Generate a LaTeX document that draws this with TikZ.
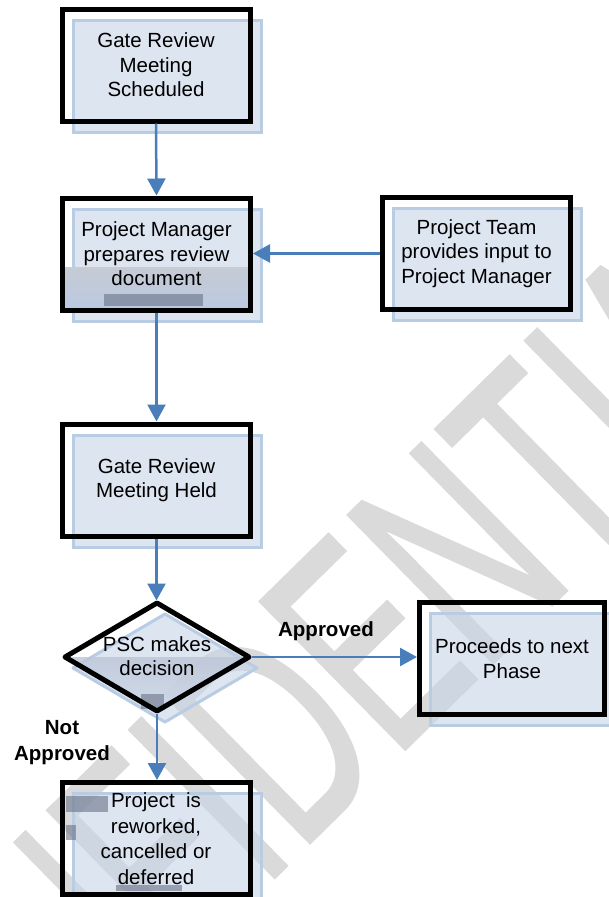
\documentclass[tikz,border=0pt]{standalone}
\usepackage{fontspec}
\setmainfont{Liberation Sans}
\newfontfamily\wmfont[FakeBold=1.2]{Liberation Sans}
\usetikzlibrary{arrows.meta,shapes.geometric,backgrounds,calc}
% fill colour chosen so that at fill opacity 0.6 over white it gives RGB 219,229,241
\definecolor{boxfill}{RGB}{198,212,231}
\definecolor{boxedge}{RGB}{184,204,228}
\definecolor{arrowblue}{RGB}{74,126,187}
\definecolor{blobgray}{RGB}{105,115,135}
\definecolor{wmgray}{RGB}{218,218,218}
\begin{document}
\begin{tikzpicture}[x=1pt,y=-1pt,
  box/.style={draw=black, line width=5pt, rectangle, inner sep=0pt, outer sep=0pt,
    minimum width=188pt, minimum height=112pt, align=center,
    font=\fontsize{20.5}{24.5}\selectfont},
  shadowbox/.style={fill=boxfill, fill opacity=0.6, draw=boxedge, line width=3pt},
  arr/.style={draw=arrowblue, line width=2.5pt, -{Triangle[length=17pt,width=18pt]},
    shorten >=2.5pt, shorten <=2.5pt},
  txt/.style={align=center, font=\fontsize{20.5}{24.5}\selectfont, inner sep=0pt},
  lbl/.style={align=center, font=\fontsize{20.5}{26}\selectfont\bfseries, inner sep=0pt},
  blob/.style={fill=blobgray, fill opacity=0.6}
]
\useasboundingbox (0,0) rectangle (609,897);
\clip (0,0) rectangle (609,897);

% boxes
\node[box] (b1) at (156,65) {Gate Review\\Meeting\\Scheduled};
\node[box] (b2) at (156.5,254) {Project Manager\\prepares review\\document};
\node[box] (b3) at (476.5,253.5) {Project Team\\provides input to\\Project Manager};
\node[box] (b4) at (156.5,480) {Gate Review\\Meeting Held};
\node[diamond, draw=black, line width=5pt, line join=round, minimum width=184pt,
  minimum height=108pt, inner sep=0pt, outer sep=0pt] (d) at (157,657) {};
\node[txt] (dt) at (157,656) {PSC makes\\decision};
\node[box, minimum width=185pt] (b5) at (512,658.5) {Proceeds to next\\Phase};
\node[box, font=\fontsize{20.5}{25.5}\selectfont] (b6) at (156,838.5)
  {Project\ \ is\\reworked,\\cancelled or\\deferred};

\begin{scope}[on background layer]
  % watermark, under everything
  \begin{scope}[shift={(-112,1257)}, rotate=44.5, xscale=1.85, yscale=3.0]
    \node[transform shape, anchor=base west, inner sep=0pt, text=wmgray,
      font=\wmfont\fontsize{100}{120}\selectfont] (wm) at (0,0) {CONFIDENTIAL};
  \end{scope}
  % shadows and artefacts
  \foreach \n in {b1,b2,b3,b4,b5,b6}
    \draw[shadowbox] ([shift={(11,11)}]\n.north west) rectangle ([shift={(11,11)}]\n.south east);
  \draw[shadowbox, line join=round] ([shift={(8,11)}]d.north) -- ([shift={(8,11)}]d.east)
    -- ([shift={(8,11)}]d.south) -- ([shift={(8,11)}]d.west) -- cycle;
  \shade[top color={rgb,255:red,198;green,203;blue,212}, bottom color={rgb,255:red,186;green,201;blue,225}]
    (64,267) rectangle (249,310);
  \shade[fill opacity=0.8, top color={rgb,255:red,188;green,198;blue,215}, bottom color={rgb,255:red,206;green,216;blue,233}]
    (d.west) -- (d.east) -- (d.south) -- cycle;
  \fill[blob] (104,294) rectangle (203,306);
  \fill[blob] (141,694) rectangle (164,709);
  \fill[blob] (66,796) rectangle (108,812);
  \fill[blob] (66,825) rectangle (76,840);
  \fill[blob] (116,885) rectangle (182,891);
\end{scope}

% connectors
\draw[arr] (b1.south) -- (b2.north);
\draw[arr] (b3.west) -- (b3.west -| b2.east);
\draw[arr] (b2.south) -- (b4.north);
\draw[arr] (b4.south) -- (b4.south |- d.north);
\draw[arr] (d.east) -- (d.east -| b5.west);
\draw[arr] (d.south) -- (d.south |- b6.north);

% labels
\node[lbl] (la) at (326,631) {Approved};
\node[lbl] (lna) at (62,743) {Not\\Approved};
\end{tikzpicture}
\end{document}
